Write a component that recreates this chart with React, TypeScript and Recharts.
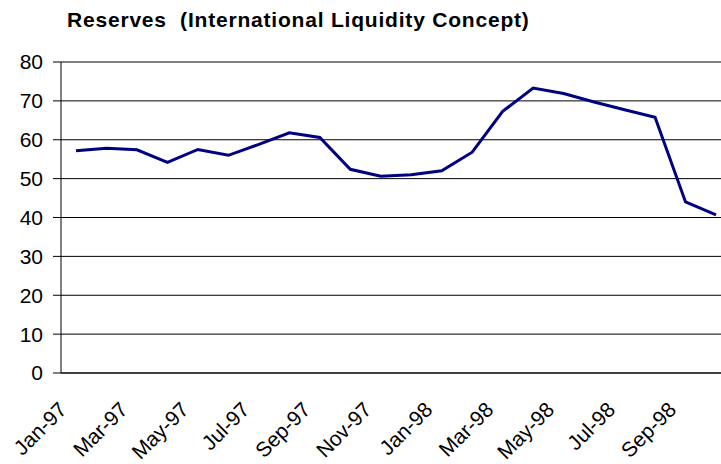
import { LineChart, Line, XAxis, YAxis, CartesianGrid } from 'recharts';

const months = [
    'Jan-97', 'Feb-97', 'Mar-97', 'Apr-97', 'May-97', 'Jun-97',
    'Jul-97', 'Aug-97', 'Sep-97', 'Oct-97', 'Nov-97', 'Dec-97',
    'Jan-98', 'Feb-98', 'Mar-98', 'Apr-98', 'May-98', 'Jun-98',
    'Jul-98', 'Aug-98', 'Sep-98', 'Oct-98',
];

const reserves = [
    57.2, 57.8, 57.4, 54.2, 57.5, 56.0, 58.8, 61.8, 60.6, 52.4, 50.6,
    51.0, 52.0, 56.8, 67.3, 73.3, 71.9, 69.7, 67.7, 65.8, 44.0, 40.7,
];

const yTicks = [0, 10, 20, 30, 40, 50, 60, 70, 80];

const FONT = '"Liberation Sans", Arial, sans-serif';

const data = months.map((m, i) => ({ month: m, value: reserves[i] }));

const MonthTick = (props: any) => {
    const { x, y, payload } = props;
    return (
        <g transform={`translate(${x - 8},${y + 38})`}>
            <text
                x={0}
                y={0}
                textAnchor="end"
                transform="rotate(-45)"
                fontSize={21}
                fontFamily={FONT}
                fill="#000"
            >
                {payload.value}
            </text>
        </g>
    );
};

const App = () => {
    return (
        <div
            style={{
                position: 'absolute',
                left: 0,
                top: 0,
                width: 721,
                height: 464,
                overflow: 'hidden',
                background: '#fff',
            }}
        >
            <div
                style={{
                    position: 'absolute',
                    left: 67,
                    top: 9,
                    fontFamily: FONT,
                    fontWeight: 'bold',
                    fontSize: 21,
                    lineHeight: '21px',
                    letterSpacing: 0.8,
                    whiteSpace: 'pre',
                }}
            >
                {'Reserves  (International Liquidity Concept)'}
            </div>
            <LineChart
                width={740}
                height={464}
                data={data}
                margin={{ top: 62, right: 9, left: 0, bottom: 0 }}
            >
                <CartesianGrid
                    vertical={false}
                    stroke="#000"
                    strokeWidth={1}
                />
                <XAxis
                    dataKey="month"
                    interval={1}
                    height={91}
                    padding={{ left: 15, right: 15 }}
                    tickLine={false}
                    tickSize={0}
                    tickMargin={0}
                    axisLine={{ stroke: '#000', strokeWidth: 1 }}
                    tick={<MonthTick />}
                />
                <YAxis
                    domain={[0, 80]}
                    ticks={yTicks}
                    width={61}
                    tickSize={8}
                    tickMargin={10}
                    axisLine={{ stroke: '#000', strokeWidth: 1 }}
                    tickLine={{ stroke: '#000', strokeWidth: 1 }}
                    tick={{ fontSize: 21, fontFamily: FONT, fill: '#000' }}
                />
                <Line
                    type="linear"
                    dataKey="value"
                    stroke="#000080"
                    strokeWidth={3}
                    dot={false}
                    isAnimationActive={false}
                />
            </LineChart>
        </div>
    );
};

export default App;
